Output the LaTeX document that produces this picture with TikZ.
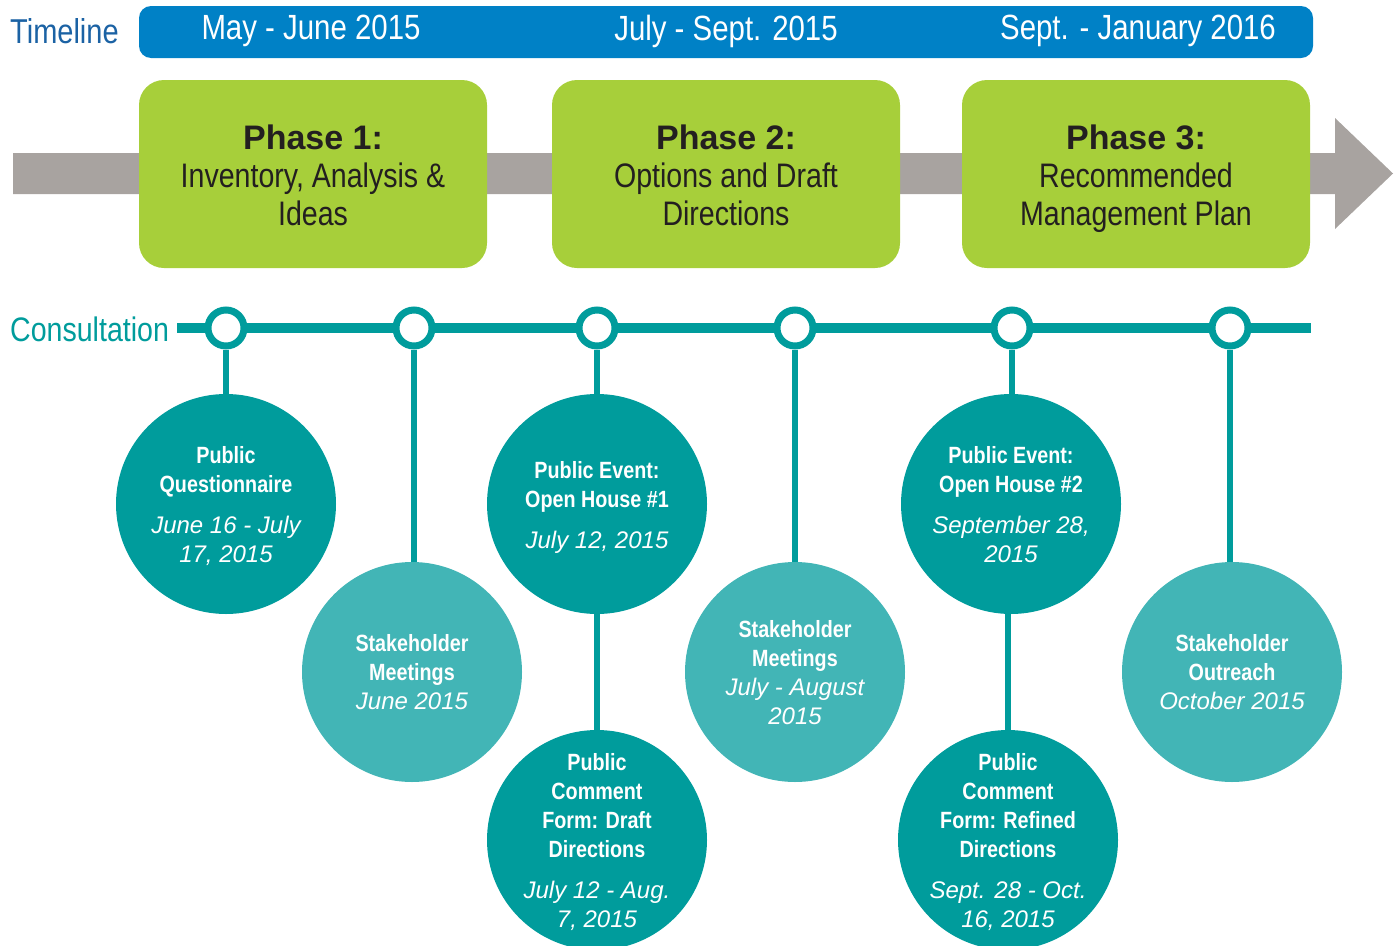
\documentclass[tikz,border=0pt]{standalone}
\usepackage{fontspec}
\setmainfont{Liberation Sans}
\newfontfamily\cond{Liberation Sans}[FakeStretch=0.84]
\newfontfamily\regf{Liberation Sans}
\definecolor{tlblue}{HTML}{1B62A4}
\definecolor{barblue}{HTML}{0081C6}
\definecolor{phgreen}{HTML}{A7CF3A}
\definecolor{arrgray}{HTML}{A8A3A0}
\definecolor{dteal}{HTML}{009C9C}
\definecolor{lteal}{HTML}{42B5B6}
\definecolor{txtdark}{HTML}{231F20}
\tikzset{
  headlabel/.style={inner sep=0pt, text=white, font=\cond\fontsize{35}{38}\selectfont},
  phasebox/.style={rectangle, rounded corners=25pt, fill=phgreen, minimum width=348pt, minimum height=188pt, inner sep=0pt},
  phtext/.style={inner sep=0pt, align=center, text=txtdark, font=\cond\fontsize{34}{38}\selectfont},
  ring/.style={circle, draw=dteal, line width=7pt, fill=white, minimum size=36pt, inner sep=0pt},
  dcirc/.style={circle, fill=dteal, minimum size=220pt, inner sep=0pt},
  lcirc/.style={circle, fill=lteal, minimum size=220pt, inner sep=0pt},
  ctext/.style={inner sep=0pt, align=center, text=white, font=\cond\fontsize{23.5}{29}\selectfont\bfseries},
  conn/.style={draw=dteal, line width=6pt},
  mainline/.style={draw=dteal, line width=10pt},
}
\newcommand{\dt}[1]{{\regf\mdseries\itshape\fontsize{24}{29}\selectfont #1}}
\newcommand{\phs}[1]{{\regf\bfseries #1}}
\begin{document}
\begin{tikzpicture}[x=1pt,y=-1pt]
\useasboundingbox (0,0) rectangle (1400,945);
\clip (0,0) rectangle (1400,945);
% timeline header
\node[anchor=west, inner sep=0pt, text=tlblue, font=\cond\fontsize{34.5}{38}\selectfont] (tl) at (10,31) {Timeline};
\node[rectangle, rounded corners=12pt, fill=barblue, minimum width=1174pt, minimum height=52pt, inner sep=0pt] (bar) at (726,32) {};
\node[headlabel] (h1) at (311,31) {May - June 2015};
\node[headlabel] (h2) at (726,31) {July - Sept. 2015};
\node[headlabel] (h3) at (1138,31) {Sept. - January 2016};
% gray arrow
\fill[arrgray] (13,153) -- (1335,153) -- (1335,118) -- (1393,173.5) -- (1335,229) -- (1335,194) -- (13,194) -- cycle;
% phases
\node[phasebox] (p1) at (313,174) {};
\node[phasebox] (p2) at (726,174) {};
\node[phasebox] (p3) at (1136,174) {};
\node[phtext] (pt1) at ([yshift=-6pt]p1.center) {\strut\phs{Phase 1:}\\Inventory, Analysis \&\\Ideas\strut};
\node[phtext] (pt2) at ([yshift=-6pt]p2.center) {\strut\phs{Phase 2:}\\Options and Draft\\Directions\strut};
\node[phtext] (pt3) at ([yshift=-6pt]p3.center) {\strut\phs{Phase 3:}\\Recommended\\Management Plan\strut};
% consultation
\node[anchor=west, inner sep=0pt, text=dteal, font=\cond\fontsize{34}{38}\selectfont] (cons) at (10,329) {Consultation};
\coordinate (cl0) at (177,328);
\coordinate (cl1) at (1311,328);
\draw[mainline] (cl0) -- (cl1);
\node[ring] (r1) at (226,328) {};
\node[ring] (r2) at (414,328) {};
\node[ring] (r3) at (597,328) {};
\node[ring] (r4) at (795,328) {};
\node[ring] (r5) at (1012,328) {};
\node[ring] (r6) at (1230,328) {};
% circles
\node[dcirc] (c1) at (226,504) {};
\node[lcirc] (c2) at (412,672) {};
\node[dcirc] (c3) at (597,504) {};
\node[dcirc] (c4) at (597,840) {};
\node[lcirc] (c5) at (795,672) {};
\node[dcirc] (c6) at (1011,504) {};
\node[dcirc] (c7) at (1008,840) {};
\node[lcirc] (c8) at (1232,672) {};
% connectors
\draw[conn] (r1.south) -- (c1.north);
\draw[conn] (r2.south) -- (r2.south |- c2.north);
\draw[conn] (r3.south) -- (c3.north);
\draw[conn] (c3.south) -- (c4.north);
\draw[conn] (r4.south) -- (c5.north);
\draw[conn] (r5.south) -- (r5.south |- c6.north);
\draw[conn] (c7.north) -- (c7.north |- c6.south);
\draw[conn] (r6.south) -- (r6.south |- c8.north);
% circle texts
\node[ctext] (t1) at ([yshift=-2pt]c1.center) {Public\\Questionnaire\\[12pt]\dt{June 16 - July}\\\dt{17, 2015}};
\node[ctext] (t2) at (c2.center) {Stakeholder\\Meetings\\\dt{June 2015}};
\node[ctext] (t3) at ([yshift=-3pt]c3.center) {Public Event:\\Open House \#1\\[12pt]\dt{July 12, 2015}};
\node[ctext] (t4) at ([yshift=-2pt]c4.center) {Public\\Comment\\Form: Draft\\Directions\\[12pt]\dt{July 12 - Aug.}\\\dt{7, 2015}};
\node[ctext] (t5) at ([yshift=-1pt]c5.center) {Stakeholder\\Meetings\\\dt{July - August}\\\dt{2015}};
\node[ctext] (t6) at ([yshift=-1pt]c6.center) {Public Event:\\Open House \#2\\[12pt]\dt{September 28,}\\\dt{2015}};
\node[ctext] (t7) at ([yshift=-2pt]c7.center) {Public\\Comment\\Form: Refined\\Directions\\[12pt]\dt{Sept. 28 - Oct.}\\\dt{16, 2015}};
\node[ctext] (t8) at (c8.center) {Stakeholder\\Outreach\\\dt{October 2015}};
\end{tikzpicture}
\end{document}
